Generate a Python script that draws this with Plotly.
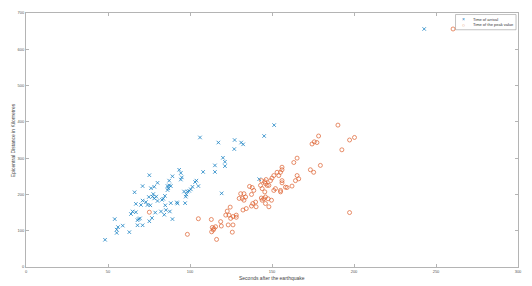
import plotly.graph_objects as go

# Time of arrival (seconds, km)
arrival_x = [48.2, 54.1, 55.3, 55.3, 56.1, 59, 63, 64, 65, 66.2, 67, 67, 68, 68.7, 69.5, 70.1,
             71.1, 71.1, 71.1, 73.1, 74.1, 75.2, 75.2, 76.2, 76.8, 77.2, 77.6, 78.2, 78.2, 78.8,
             79.4, 80.2, 80.2, 82.9, 82.3, 84.3, 84.7, 86.3, 87.3, 88.3, 86.3, 86.8, 84.9, 85.3,
             87.7, 87.3, 88.3, 89.3, 89.3, 92, 93.4, 94.4, 95, 94.4, 96.4, 97.4, 97, 98.4, 99.5,
             100.5, 101.5, 103.1, 103.9, 105.1, 108, 115.2, 115.2, 119.3, 121.3, 121.3, 120.1,
             127, 127.2, 131.2, 132.4, 142.2, 106.1, 117.3, 145.2, 151.3, 242.8,
             83.7, 92.3, 97.8, 74.9, 68, 75.8]
arrival_y = [75, 132, 103, 94, 110, 114, 96, 146, 153, 206, 151, 174, 115, 132, 134, 171,
             223, 183, 115, 179, 171, 253, 126, 217, 135, 194, 201, 221, 189, 150,
             194, 232, 182, 185, 153, 144, 196, 223, 225, 223, 212, 217, 170, 157,
             153, 238, 176, 132, 250, 178, 268, 259, 247, 241, 208, 194, 176, 208, 210,
             214, 221, 234, 238, 223, 262, 280, 262, 203, 290, 278, 301,
             325, 350, 343, 338, 242, 357, 343, 361, 391, 656,
             188, 175, 200, 193, 129, 170]

# Time of the peak value (seconds, km)
peak_x = [75.2, 98.4, 105.1, 113, 113.6, 114.6, 115.6, 114.2, 113.2, 116.2, 118.7, 119.1,
          122.7, 123.8, 121.8, 124.8, 123.3, 126.2, 125.8, 128.2, 128.2, 132.3, 134.3, 132.9,
          130.9, 132.9, 131.9, 133.9, 136.3, 137.9, 138.9, 137.5, 138.3, 140, 140.3, 137.5,
          143, 144, 146, 147, 145.6, 146, 148.1, 143.5, 145, 144, 146, 147.6, 149.7, 148.1,
          151.1, 152.1, 155.2, 156.1, 154.1, 155.2, 156.1, 156.1, 149.1, 151.1, 153.1, 155.2,
          158.2, 159.2, 162.2, 163.3, 165.3, 164.3, 165.3, 166.3, 173.4, 175.4, 179.5, 174.4,
          175.8, 177.4, 178.4, 190.2, 192.6, 197.3, 200.3, 197.3, 260.4, 156.1, 150,
          143.6, 145.6, 146.4, 124.5, 130, 126.2]
peak_y = [151, 90, 133, 131, 109, 106, 111, 102, 97, 76, 125, 113,
          154, 143, 143, 134, 116, 116, 96, 143, 137, 157, 161, 184,
          202, 202, 189, 193, 222, 219, 211, 200, 175, 179, 166, 168,
          225, 216, 230, 225, 207, 193, 225, 190, 188, 184, 175, 188, 184, 166,
          211, 216, 211, 238, 252, 261, 268, 275, 238, 252, 261, 207,
          220, 219, 223, 288, 300, 238, 252, 243, 268, 261, 280, 339,
          345, 343, 361, 391, 323, 350, 357, 150, 656, 232, 245,
          238, 235, 241, 165, 189, 139]

x_ticks = [0, 50, 100, 150, 200, 250, 300]
y_ticks = [0, 100, 200, 300, 400, 500, 600, 700]
legend_labels = ["Time of arrival", "Time of the peak value"]

BLUE = "rgb(25,130,195)"
ORANGE = "rgb(220,95,45)"
AXIS = "#b4b4b4"
FONT = "Liberation Sans, Arial, sans-serif"

fig = go.Figure()
fig.add_trace(go.Scatter(
    x=arrival_x, y=arrival_y, mode="markers", name=legend_labels[0],
    marker=dict(symbol="x-thin", size=3.5, line=dict(color=BLUE, width=0.8), color=BLUE),
))
fig.add_trace(go.Scatter(
    x=peak_x, y=peak_y, mode="markers", name=legend_labels[1],
    marker=dict(symbol="circle-open", size=4, color=ORANGE, line=dict(color=ORANGE, width=0.7)),
))

axis_common = dict(
    showline=True, linecolor=AXIS, linewidth=1, mirror="ticks",
    ticks="inside", ticklen=3, tickcolor=AXIS, tickwidth=1,
    showgrid=False, zeroline=False,
    tickfont=dict(size=4, color="#555555", family=FONT),
)

# compact legend (plotly's built-in legend has a minimum row height far larger than the reference)
leg_x0, leg_x1, leg_y0, leg_y1 = 0.873, 0.996, 0.934, 0.994
rows_y = [0.9746, 0.953]
annotations = [
    dict(text="Seconds after the earthquake", xref="paper", yref="paper",
         x=0.5, y=-0.043, xanchor="center", yanchor="middle", showarrow=False,
         font=dict(size=5, color="#444444", family=FONT)),
    dict(text="Epicentral Distance in Kilometres", xref="paper", yref="paper",
         x=-0.026, y=0.5, xanchor="center", yanchor="middle", showarrow=False,
         textangle=-90, font=dict(size=5, color="#444444", family=FONT)),
]
for sym, col, label, ry in zip(["×", "○"], [BLUE, ORANGE], legend_labels, rows_y):
    annotations.append(dict(text=sym, xref="paper", yref="paper", x=0.8885, y=ry,
                            xanchor="center", yanchor="middle", showarrow=False,
                            font=dict(size=5, color=col, family=FONT)))
    annotations.append(dict(text=label, xref="paper", yref="paper", x=0.905, y=ry,
                            xanchor="left", yanchor="middle", showarrow=False,
                            font=dict(size=4, color="#333333", family=FONT)))

fig.update_layout(
    width=532, height=286, autosize=False,
    margin=dict(l=26, r=10, t=11, b=19),
    paper_bgcolor="white", plot_bgcolor="white",
    font=dict(family=FONT, size=4, color="#444444"),
    xaxis=dict(range=[0, 300], tickvals=x_ticks, ticktext=[str(v) for v in x_ticks], **axis_common),
    yaxis=dict(range=[0, 700], tickvals=y_ticks, ticktext=[str(v) for v in y_ticks], **axis_common),
    showlegend=False,
    shapes=[dict(type="rect", xref="paper", yref="paper", x0=leg_x0, x1=leg_x1, y0=leg_y0, y1=leg_y1,
                 line=dict(color="#999999", width=0.6), fillcolor="white", layer="below")],
    annotations=annotations,
)

fig.write_html("out.html", config={"displayModeBar": False},
               post_script="document.body.style.margin='0';document.body.style.padding='0';"
                           "document.body.style.overflow='hidden';")
